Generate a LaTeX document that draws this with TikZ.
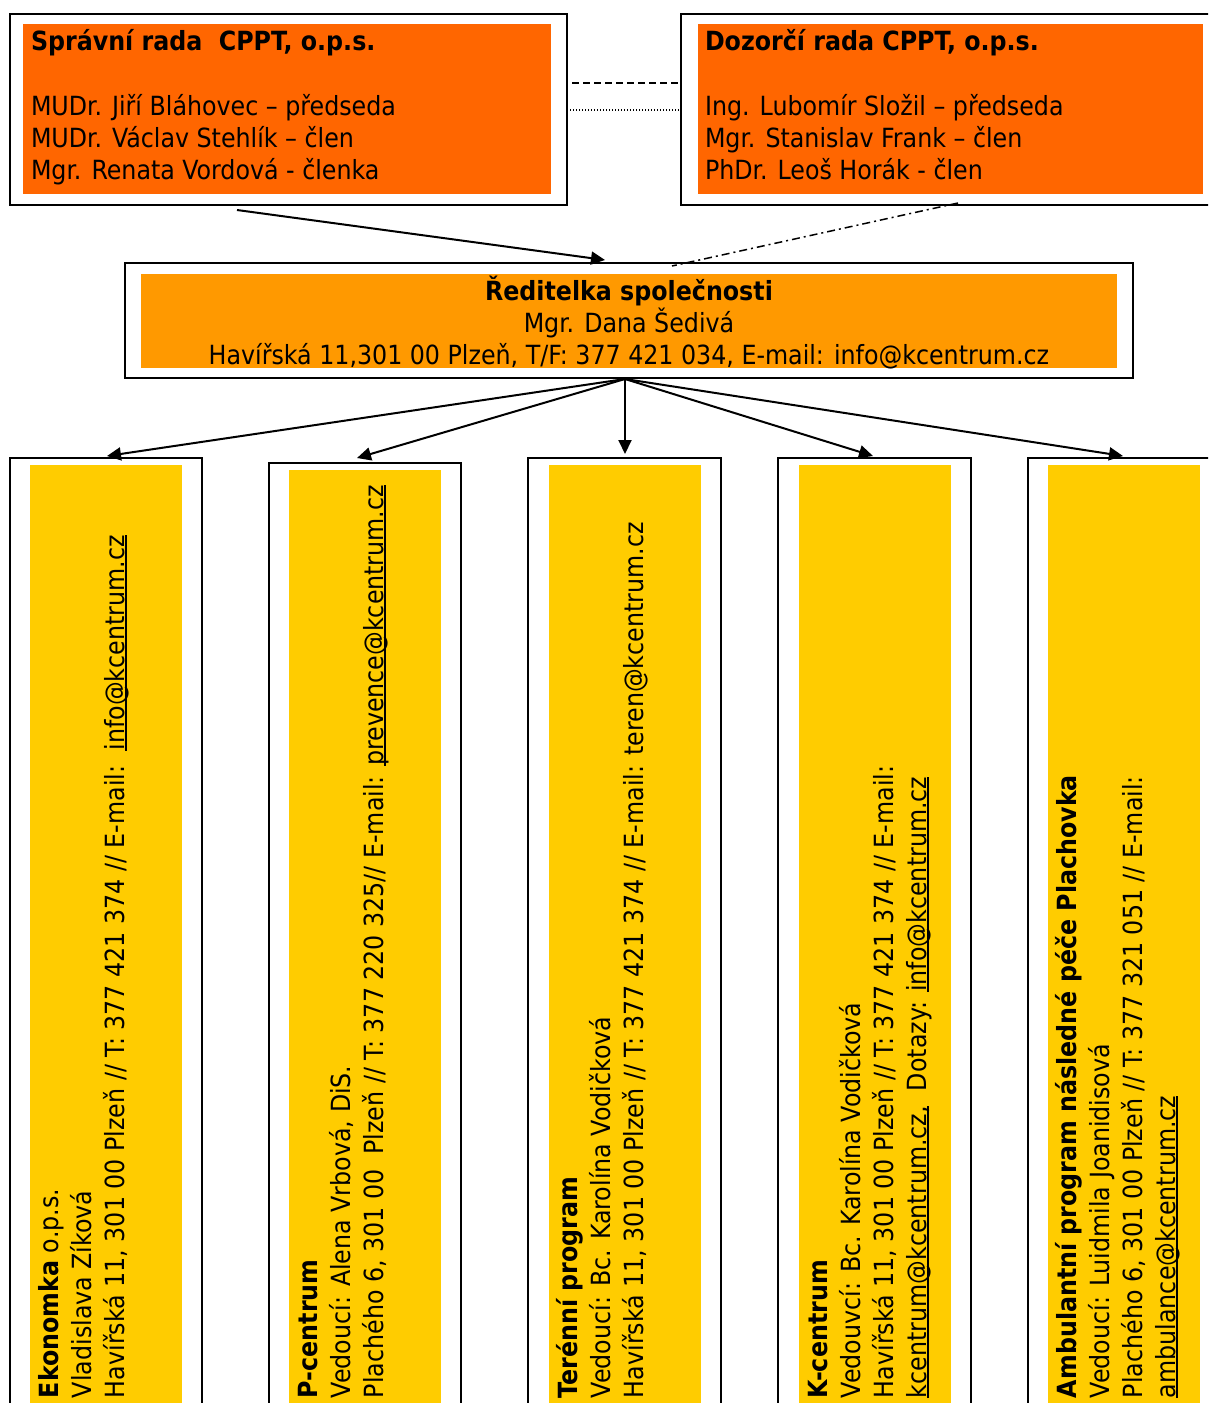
\documentclass[tikz,border=0pt]{standalone}
\usepackage{fontspec}
\setmainfont{DejaVu Sans Condensed}
\usetikzlibrary{arrows.meta}
\definecolor{orangeA}{HTML}{FF6600}
\definecolor{orangeB}{HTML}{FF9900}
\definecolor{yellowC}{HTML}{FFCC00}
\newcommand{\ulmail}[1]{\setbox0=\hbox{#1}\rlap{\rule[-2.6pt]{\wd0}{1.6pt}}\box0}
\tikzset{
  outerbox/.style={draw=black, line width=2pt, fill=white, anchor=north west, inner sep=0pt, outer sep=0pt},
  fillbox/.style={anchor=north west, inner sep=0pt, outer sep=0pt},
  txt/.style={anchor=base west, inner sep=0pt, outer sep=0pt, font=\fontsize{26.4}{30}\selectfont},
  ctxt/.style={anchor=base, inner sep=0pt, outer sep=0pt, font=\fontsize{26.4}{30}\selectfont},
  vtxt/.style={txt, rotate=90},
  arr/.style={draw=black, line width=2pt, -{Triangle[length=14pt,width=13pt]}},
  dashlink/.style={draw=black, line width=2pt, dash pattern=on 7pt off 4pt},
  dotlink/.style={draw=black, line width=1.4pt, dash pattern=on 1.2pt off 1.8pt},
  dashdotlink/.style={draw=black, line width=1.5pt, dash pattern=on 8pt off 4pt on 2pt off 4pt}
}
\begin{document}
\begin{tikzpicture}[x=1pt,y=-1pt]
\useasboundingbox (0,0) rectangle (1208,1403);
\clip (0,0) rectangle (1208,1403);

% top boxes
\node[outerbox, minimum width=557pt, minimum height=191pt] (sr) at (10,14) {};
\node[fillbox, fill=orangeA, minimum width=528pt, minimum height=170pt] (srfill) at (23,24) {};
\node[outerbox, minimum width=600pt, minimum height=191pt] (dr) at (681,14) {};
\node[fillbox, fill=orangeA, minimum width=505pt, minimum height=170pt] (drfill) at (698,24) {};

\node[txt] (sr0) at (31,50) {\textbf{Správní rada~~CPPT, o.p.s.}};
\node[txt] (sr1) at (31,115) {MUDr. Jiří Bláhovec – předseda};
\node[txt] (sr2) at (31,147) {MUDr. Václav Stehlík – člen};
\node[txt] (sr3) at (31,179) {Mgr. Renata Vordová - členka};

\node[txt] (dr0) at (705,50) {\textbf{Dozorčí rada CPPT, o.p.s.}};
\node[txt] (dr1) at (705,115) {Ing. Lubomír Složil – předseda};
\node[txt] (dr2) at (705,147) {Mgr. Stanislav Frank – člen};
\node[txt] (dr3) at (705,179) {PhDr. Leoš Horák - člen};

% links between top boxes
\coordinate (l1a) at (572,83); \coordinate (l1b) at (678,83);
\coordinate (l2a) at (570,110); \coordinate (l2b) at (680,110);
\draw[dashlink] (l1a) -- (l1b);
\draw[dotlink] (l2a) -- (l2b);

% director box
\node[outerbox, minimum width=1008pt, minimum height=115pt] (dir) at (125,263) {};
\node[fillbox, fill=orangeB, minimum width=976pt, minimum height=94pt] (dirfill) at (141,274) {};
\node[ctxt] (dir0) at (629,300) {\textbf{Ředitelka společnosti}};
\node[ctxt] (dir1) at (629,332) {Mgr. Dana Šedivá};
\node[ctxt] (dir2) at (629,364) {Havířská 11,301 00 Plzeň, T/F: 377 421 034, E-mail: info@kcentrum.cz};

% links to director
\coordinate (a1s) at (237,210); \coordinate (a1e) at (605,260);
\draw[arr] (a1s) -- (a1e);
\coordinate (a2s) at (958,203); \coordinate (a2e) at (672,266);
\draw[dashdotlink] (a2s) -- (a2e);

% bottom columns
\node[outerbox, minimum width=192pt, minimum height=1000pt] (c1) at (10,458) {};
\node[fillbox, fill=yellowC, minimum width=152pt, minimum height=1000pt] (c1fill) at (30,465) {};
\node[outerbox, minimum width=192pt, minimum height=1000pt] (c2) at (269,463) {};
\node[fillbox, fill=yellowC, minimum width=152pt, minimum height=1000pt] (c2fill) at (289,470) {};
\node[outerbox, minimum width=193pt, minimum height=1000pt] (c3) at (528,458) {};
\node[fillbox, fill=yellowC, minimum width=152pt, minimum height=1000pt] (c3fill) at (549,465) {};
\node[outerbox, minimum width=193pt, minimum height=1000pt] (c4) at (778,458) {};
\node[fillbox, fill=yellowC, minimum width=152pt, minimum height=1000pt] (c4fill) at (799,465) {};
\node[outerbox, minimum width=193pt, minimum height=1000pt] (c5) at (1028,458) {};
\node[fillbox, fill=yellowC, minimum width=152pt, minimum height=1000pt] (c5fill) at (1048,465) {};

% arrows from director
\coordinate (hub) at (625,379);
\coordinate (t1) at (107,456);
\coordinate (t2) at (357,458);
\coordinate (t3) at (625,454);
\coordinate (t4) at (873,456);
\coordinate (t5) at (1123,456);
\foreach \t in {t1,t2,t3,t4,t5} \draw[arr] (hub) -- (\t);

% column texts
\node[vtxt] (c1a) at (58,1398) {\textbf{Ekonomka} o.p.s.};
\node[vtxt] (c1b) at (91,1398) {Vladislava Zíková};
\node[vtxt] (c1c) at (124,1398) {Havířská 11, 301 00 Plzeň // T: 377 421 374 // E-mail:~~\ulmail{info@kcentrum.cz}};

\node[vtxt] (c2a) at (317,1398) {\textbf{P-centrum}};
\node[vtxt] (c2b) at (350,1398) {Vedoucí: Alena Vrbová, DiS.};
\node[vtxt] (c2c) at (383,1398) {Plachého 6, 301 00~~Plzeň // T: 377 220 325// E-mail: \ulmail{prevence@kcentrum.cz}};

\node[vtxt] (c3a) at (577,1398) {\textbf{Terénní program}};
\node[vtxt] (c3b) at (610,1398) {Vedoucí: Bc. Karolína Vodičková};
\node[vtxt] (c3c) at (643,1398) {Havířská 11, 301 00 Plzeň // T: 377 421 374 // E-mail: teren@kcentrum.cz};

\node[vtxt] (c4a) at (827,1398) {\textbf{K-centrum}};
\node[vtxt] (c4b) at (860,1398) {Vedouvcí: Bc. Karolína Vodičková};
\node[vtxt] (c4c) at (893,1398) {Havířská 11, 301 00 Plzeň // T: 377 421 374 // E-mail:};
\node[vtxt] (c4d) at (926,1398) {\ulmail{kcentrum@kcentrum.cz,}~~Dotazy: \ulmail{info@kcentrum.cz}};

\node[vtxt] (c5a) at (1076,1398) {\textbf{Ambulantní program následné péče Plachovka}};
\node[vtxt] (c5b) at (1109,1398) {Vedoucí: Luidmila Joanidisová};
\node[vtxt] (c5c) at (1142,1398) {Plachého 6, 301 00 Plzeň // T: 377 321 051 // E-mail:};
\node[vtxt] (c5d) at (1175,1398) {\ulmail{ambulance@kcentrum.cz}};
\end{tikzpicture}
\end{document}
